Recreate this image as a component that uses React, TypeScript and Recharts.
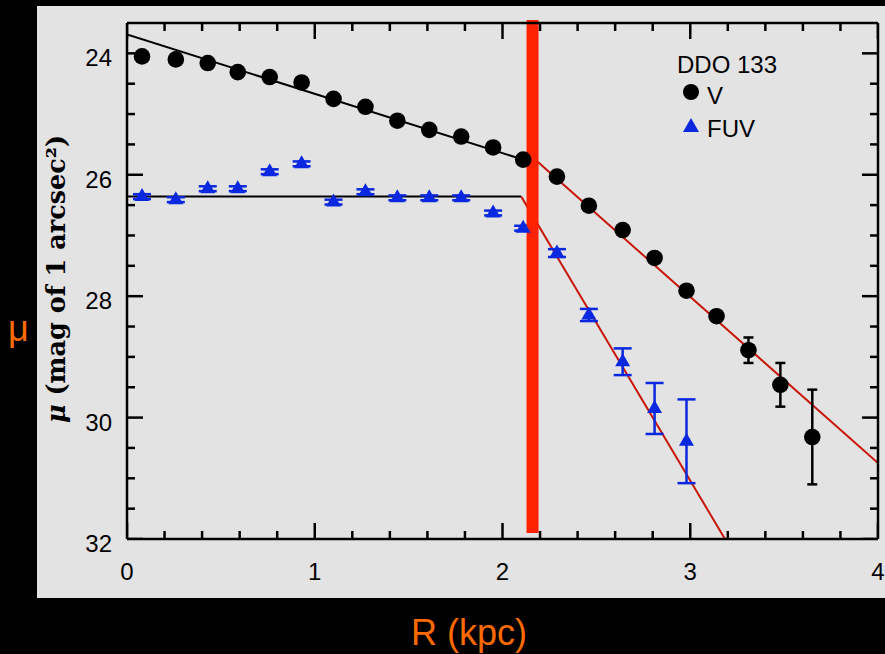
import { ComposedChart, ErrorBar, Line, ReferenceLine, Scatter, XAxis, YAxis } from "recharts";

// radius (kpc) of each annulus, same for both bands
const radii = [0.08, 0.26, 0.43, 0.59, 0.76, 0.93, 1.1, 1.27, 1.44, 1.61, 1.78, 1.95, 2.11, 2.29, 2.46, 2.64, 2.81, 2.98, 3.14, 3.31, 3.48, 3.65];

// V band surface brightness and errors
const vMag = [24.05, 24.1, 24.16, 24.31, 24.39, 24.48, 24.75, 24.88, 25.11, 25.26, 25.37, 25.55, 25.75, 26.03, 26.51, 26.91, 27.37, 27.91, 28.33, 28.89, 29.46, 30.32];
const vErr = [0, 0, 0, 0, 0, 0, 0, 0, 0, 0, 0, 0, 0, 0, 0, 0, 0, 0, 0.05, 0.21, 0.36, 0.78];

// FUV surface brightness and errors (only 18 radii)
const fuvMag = [26.36, 26.41, 26.23, 26.23, 25.95, 25.82, 26.45, 26.28, 26.38, 26.38, 26.38, 26.63, 26.88, 27.29, 28.31, 29.08, 29.85, 30.39];
const fuvErr = [0.04, 0.04, 0.04, 0.04, 0.04, 0.04, 0.04, 0.04, 0.04, 0.04, 0.04, 0.04, 0.04, 0.065, 0.1, 0.22, 0.42, 0.69];

// fitted profiles (endpoints)
const vInnerR = [0, 2.13];
const vInnerMu = [23.69, 25.77];
const vOuterR = [2.16, 4];
const vOuterMu = [25.71, 30.75];
const fuvInnerR = [0, 2.1];
const fuvInnerMu = [26.36, 26.36];
const fuvOuterR = [2.1, 3.185];
const fuvOuterMu = [26.36, 32];

const breakR = 2.16;

const xMajor = [0, 1, 2, 3, 4];
const xMinor = [0.2, 0.4, 0.6, 0.8, 1.2, 1.4, 1.6, 1.8, 2.2, 2.4, 2.6, 2.8, 3.2, 3.4, 3.6, 3.8];
const yMajor = [24, 26, 28, 30, 32];
const yMinor = [24.5, 25, 25.5, 26.5, 27, 27.5, 28.5, 29, 29.5, 30.5, 31, 31.5];

const X_DOMAIN: [number, number] = [0, 4];
const Y_DOMAIN: [number, number] = [23.5, 32];

const vData = radii.map((r, i) => ({ r, mu: vMag[i], err: vErr[i] }));
const fuvData = fuvMag.map((mu, i) => ({ r: radii[i], mu, err: fuvErr[i] }));
const toLine = (rs: number[], mus: number[]) => rs.map((r, i) => ({ r, mu: mus[i] }));
// tick positions along each frame side, placed through the chart scales
const alongX = (ticks: number[], mu: number) => ticks.map((r) => ({ r, mu }));
const alongY = (ticks: number[], r: number) => ticks.map((mu) => ({ r, mu }));

const FONT = "'Liberation Sans', Arial, sans-serif";
const frame = { stroke: "#000", strokeWidth: 2.5 };

const BottomLabel = ({ x, y, payload }: any) => (
  <text x={x} y={y + 41} textAnchor="middle" fontSize={24} fontFamily={FONT} fill="#000">
    {payload.value}
  </text>
);

const LeftLabel = ({ x, y, payload }: any) => (
  <text x={x - 15} y={y + 13} textAnchor="end" fontSize={24} fontFamily={FONT} fill="#000">
    {payload.value}
  </text>
);

// inward tick mark of a given pixel offset
const tickShape = (dx: number, dy: number) => ({ cx, cy }: any) => (
  <line x1={cx} y1={cy} x2={cx + dx} y2={cy + dy} stroke="#000" strokeWidth={2.5} />
);

const tickSeries = [
  { data: alongX(xMajor, 32), shape: tickShape(0, -16) },
  { data: alongX(xMinor, 32), shape: tickShape(0, -8) },
  { data: alongX(xMajor, 23.5), shape: tickShape(0, 16) },
  { data: alongX(xMinor, 23.5), shape: tickShape(0, 8) },
  { data: alongY(yMajor, 0), shape: tickShape(16, 0) },
  { data: alongY(yMinor, 0), shape: tickShape(8, 0) },
  { data: alongY(yMajor, 4), shape: tickShape(-16, 0) },
  { data: alongY(yMinor, 4), shape: tickShape(-8, 0) },
];

const Circle = ({ cx, cy }: any) => <circle cx={cx} cy={cy} r={8.3} fill="#000" />;
const Triangle = ({ cx, cy }: any) => (
  <polygon points={`${cx},${cy - 8.5} ${cx - 7.5},${cy + 4.5} ${cx + 7.5},${cy + 4.5}`} fill="#0a28e0" />
);

export default function App() {
  return (
    <div style={{ position: "absolute", left: 0, top: 0, width: 885, height: 654, background: "#000", overflow: "hidden" }}>
      <div style={{ position: "absolute", left: 37, top: 6, width: 848, height: 592, background: "#e3e3e3" }} />
      <div style={{ position: "absolute", left: 0, top: 0 }}>
        <ComposedChart width={885} height={654} margin={{ top: 23, right: 7, bottom: 75, left: 67 }}>
          <XAxis
            dataKey="r"
            type="number"
            domain={X_DOMAIN}
            ticks={xMajor}
            interval={0}
            height={40}
            tickSize={0}
            tickMargin={0}
            tickLine={false}
            axisLine={frame}
            tick={<BottomLabel />}
            allowDataOverflow
          />
          <YAxis
            type="number"
            domain={Y_DOMAIN}
            reversed
            ticks={yMajor}
            interval={0}
            width={60}
            tickSize={0}
            tickMargin={0}
            tickLine={false}
            axisLine={frame}
            tick={<LeftLabel />}
            allowDataOverflow
          />
          {/* top and right frame lines */}
          <XAxis xAxisId="top" orientation="top" type="number" domain={X_DOMAIN} mirror height={0.01} tick={false} tickLine={false} axisLine={frame} allowDataOverflow />
          <YAxis yAxisId="right" orientation="right" type="number" domain={Y_DOMAIN} reversed mirror width={0.01} tick={false} tickLine={false} axisLine={frame} allowDataOverflow />

          {tickSeries.map((t, i) => (
            <Scatter key={`tick-${i}`} data={t.data} dataKey="mu" shape={t.shape} isAnimationActive={false} />
          ))}

          <Line data={toLine(vInnerR, vInnerMu)} dataKey="mu" stroke="#000" strokeWidth={2} dot={false} isAnimationActive={false} />
          <Line data={toLine(fuvInnerR, fuvInnerMu)} dataKey="mu" stroke="#000" strokeWidth={2} dot={false} isAnimationActive={false} />
          <Line data={toLine(vOuterR, vOuterMu)} dataKey="mu" stroke="#c8160a" strokeWidth={2} dot={false} isAnimationActive={false} />
          <Line data={toLine(fuvOuterR, fuvOuterMu)} dataKey="mu" stroke="#c8160a" strokeWidth={2} dot={false} isAnimationActive={false} />

          <Scatter data={fuvData} dataKey="mu" shape={<Triangle />} isAnimationActive={false}>
            <ErrorBar dataKey="err" direction="y" width={9} stroke="#0a28e0" strokeWidth={2.5} />
          </Scatter>
          <Scatter data={vData} dataKey="mu" shape={<Circle />} isAnimationActive={false}>
            <ErrorBar dataKey="err" direction="y" width={5} stroke="#000" strokeWidth={2.5} />
          </Scatter>

          <ReferenceLine
            segment={[
              { x: breakR, y: 23.45 },
              { x: breakR, y: 31.9 },
            ]}
            stroke="#ff2200"
            strokeWidth={12}
            ifOverflow="visible"
          />
        </ComposedChart>
      </div>

      <svg width={885} height={654} style={{ position: "absolute", left: 0, top: 0, pointerEvents: "none" }}>
        <text x={677} y={73} fontSize={24} fontFamily={FONT} fill="#000">DDO 133</text>
        <circle cx={691} cy={92} r={8} fill="#000" />
        <text x={707} y={104} fontSize={24} fontFamily={FONT} fill="#000">V</text>
        <polygon points="691,118 683,132 699,132" fill="#0a28e0" />
        <text x={707} y={137} fontSize={24} fontFamily={FONT} fill="#000">FUV</text>

        <text
          x={65}
          y={279}
          transform="rotate(-90, 65, 279)"
          textAnchor="middle"
          fontSize={25.5}
          fontWeight="bold"
          fontFamily="'DejaVu Serif', serif"
          fill="#000"
        >
          <tspan fontStyle="italic">μ</tspan> (mag of 1 arcsec²)
        </text>

        <text x={8} y={341} fontSize={36} fontFamily={FONT} fill="#ff6a00">μ</text>
        <text x={469} y={645} textAnchor="middle" fontSize={36} fontFamily={FONT} fill="#ff6a00">R (kpc)</text>
      </svg>
    </div>
  );
}
